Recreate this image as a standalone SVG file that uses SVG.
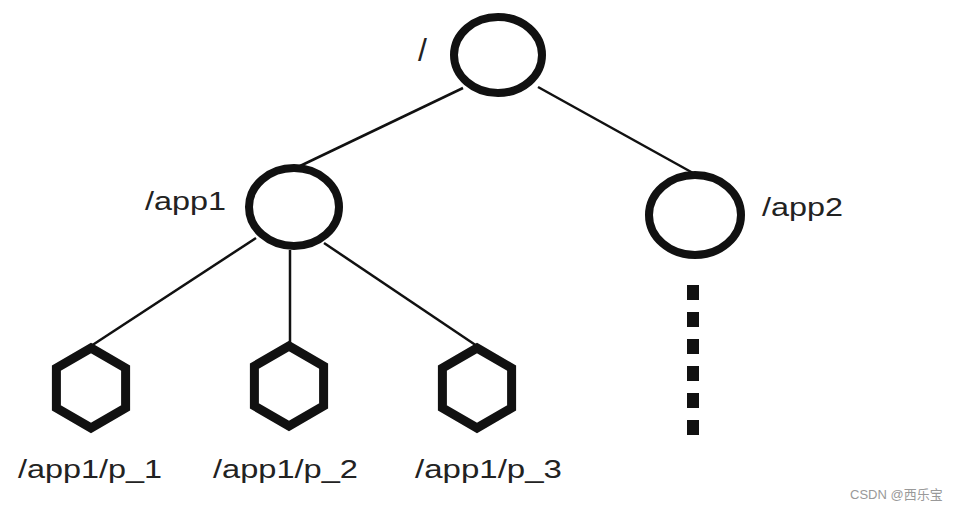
<svg xmlns="http://www.w3.org/2000/svg" width="966" height="512" viewBox="0 0 966 512">
<style>
.node{fill:#fff;stroke:#111;stroke-width:8}
.hex{stroke-width:9}
.edge{stroke:#111;stroke-width:2.5;fill:none}
.lbl{font-family:"Liberation Sans",Arial,sans-serif;font-size:26px;fill:#222}
.wm{font-family:"Liberation Sans","Noto Sans CJK SC",sans-serif;font-size:13px;fill:#999}
</style>
<rect width="966" height="512" fill="#fff"/>
<g id="connectors">
<line class="edge" x1="463" y1="88" x2="300" y2="166"/>
<line class="edge" x1="538" y1="87" x2="693" y2="173"/>
<line class="edge" x1="256" y1="238" x2="91" y2="346"/>
<line class="edge" x1="290" y1="250" x2="290" y2="346"/>
<line class="edge" x1="324" y1="243" x2="477" y2="346"/>
<line x1="693" y1="285" x2="693" y2="436" stroke="#111" stroke-width="12" stroke-dasharray="15 12"/>
</g>
<g id="root">
<ellipse class="node" cx="498" cy="55" rx="44" ry="38"/>
<text class="lbl" x="418" y="61" style="font-size:32px">/</text>
</g>
<g id="app1">
<ellipse class="node" cx="294" cy="207" rx="45" ry="39"/>
<text class="lbl" x="145" y="210" textLength="81" lengthAdjust="spacingAndGlyphs">/app1</text>
</g>
<g id="app2">
<ellipse class="node" cx="695" cy="215" rx="46" ry="40"/>
<text class="lbl" x="762" y="216" textLength="81" lengthAdjust="spacingAndGlyphs">/app2</text>
</g>
<g id="p1">
<polygon class="node hex" points="91,348 125.6,368 125.6,408 91,428 56.4,408 56.4,368"/>
<text class="lbl" x="18" y="478" textLength="144" lengthAdjust="spacingAndGlyphs">/app1/p_1</text>
</g>
<g id="p2">
<polygon class="node hex" points="289,346 323.6,366 323.6,406 289,426 254.4,406 254.4,366"/>
<text class="lbl" x="213" y="478" textLength="145" lengthAdjust="spacingAndGlyphs">/app1/p_2</text>
</g>
<g id="p3">
<polygon class="node hex" points="477,348 511.6,368 511.6,408 477,428 442.4,408 442.4,368"/>
<text class="lbl" x="415" y="478" textLength="147" lengthAdjust="spacingAndGlyphs">/app1/p_3</text>
</g>
<text class="wm" x="850" y="499">CSDN @西乐宝</text>
</svg>
